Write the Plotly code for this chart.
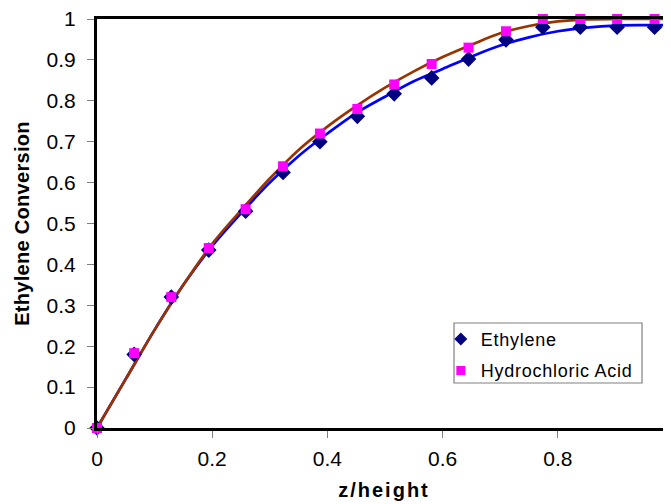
import plotly.graph_objects as go

# Marker data (z/height vs conversion)
z_points = [0, 0.0645, 0.129, 0.194, 0.258, 0.323, 0.387, 0.452, 0.516,
            0.581, 0.645, 0.710, 0.774, 0.839, 0.903, 0.968, 1.0]
ethylene_pts = [0, 0.18, 0.32, 0.435, 0.53, 0.625, 0.70, 0.762, 0.817,
                0.856, 0.902, 0.949, 0.98, 0.98, 0.98, 0.98, 0.98]
hcl_pts = [0, 0.183, 0.32, 0.44, 0.535, 0.64, 0.72, 0.78, 0.84,
           0.89, 0.93, 0.97, 1.0, 1.0, 1.0, 1.0, 1.0]

# Model curves
z_line = [0, 0.05, 0.10, 0.15, 0.20, 0.25, 0.30, 0.35, 0.40, 0.45, 0.50,
          0.55, 0.60, 0.65, 0.70, 0.75, 0.80, 0.85, 0.90, 0.95, 1.0]
ethylene_line = [0.0, 0.12, 0.24, 0.35, 0.445, 0.525, 0.60, 0.665, 0.72, 0.77,
                 0.81, 0.848, 0.878, 0.908, 0.935, 0.955, 0.97, 0.979, 0.984,
                 0.985, 0.985]
hcl_line = [0.0, 0.12, 0.24, 0.35, 0.45, 0.532, 0.61, 0.68, 0.737, 0.787,
            0.832, 0.872, 0.907, 0.937, 0.965, 0.983, 0.994, 0.999, 1.0,
            1.0, 1.0]

series_names = ["Ethylene", "Hydrochloric Acid"]
x_ticks = [0, 0.2, 0.4, 0.6, 0.8, 1]
x_ticklabels = ["0", "0.2", "0.4", "0.6", "0.8", "1"]
y_ticks = [0, 0.1, 0.2, 0.3, 0.4, 0.5, 0.6, 0.7, 0.8, 0.9, 1]
y_ticklabels = ["0", "0.1", "0.2", "0.3", "0.4", "0.5", "0.6",
                "0.7", "0.8", "0.9", "1"]

FONT = "Liberation Sans, Arial, sans-serif"
ETH_COLOR = "#000080"
HCL_COLOR = "#FF00FF"


def spaced(text, px):
    return f'<span style="letter-spacing:{px}px">{text}</span>'


fig = go.Figure()
fig.add_trace(go.Scatter(x=z_line, y=ethylene_line, mode="lines",
                         line=dict(color="#0000FF", width=2.7, shape="spline"),
                         showlegend=False, cliponaxis=False))
fig.add_trace(go.Scatter(x=z_line, y=hcl_line, mode="lines",
                         line=dict(color="#993300", width=2.7, shape="spline"),
                         showlegend=False, cliponaxis=False))
fig.add_trace(go.Scatter(x=z_points, y=ethylene_pts, mode="markers",
                         marker=dict(symbol="diamond", size=12, color=ETH_COLOR),
                         showlegend=False, cliponaxis=False))
fig.add_trace(go.Scatter(x=z_points, y=hcl_pts, mode="markers",
                         marker=dict(symbol="square", size=10, color=HCL_COLOR),
                         showlegend=False, cliponaxis=False))
# legend entries
fig.add_trace(go.Scatter(x=[None], y=[None], mode="markers",
                         name=spaced(series_names[0], 0.75), legendgroup="a",
                         marker=dict(symbol="diamond", size=10, color=ETH_COLOR)))
fig.add_trace(go.Scatter(x=[None], y=[None], mode="markers",
                         name=spaced(series_names[1], 0.75), legendgroup="b",
                         marker=dict(symbol="square", size=9, color=HCL_COLOR)))

fig.update_layout(
    width=663, height=496,
    margin=dict(l=89, r=0, t=11, b=76),
    paper_bgcolor="white", plot_bgcolor="white",
    font=dict(family=FONT, color="black", size=21),
    showlegend=True,
    legend=dict(x=0.599, y=0.262, xanchor="left", yanchor="top",
                borderwidth=0, bgcolor="rgba(0,0,0,0)",
                tracegroupgap=5,
                font=dict(size=18, family=FONT)),
    shapes=[dict(type="rect", xref="paper", yref="paper",
                 x0=0.622, x1=0.9495, y0=0.110, y1=0.2567,
                 line=dict(color="#808080", width=1.2),
                 fillcolor="white", layer="below")],
    xaxis=dict(range=[0, 0.9965], tickvals=x_ticks, ticktext=x_ticklabels,
               showgrid=False, zeroline=False,
               showline=True, linecolor="black", linewidth=3, mirror=True,
               ticks="outside", ticklen=7, tickcolor="#808080", tickwidth=1,
               ticklabelstandoff=3, ticklabeloverflow="allow",
               title=dict(text="<b>" + spaced("z/height", 2) + "</b>",
                          standoff=14, font=dict(size=20, family=FONT))),
    yaxis=dict(range=[0, 1], tickvals=y_ticks, ticktext=y_ticklabels,
               showgrid=False, zeroline=False,
               showline=True, linecolor="black", linewidth=3,
               ticks="outside", ticklen=7, tickcolor="#808080", tickwidth=1,
               ticklabelstandoff=7, ticklabeloverflow="allow",
               title=dict(text="<b>" + spaced("Ethylene Conversion", 0.3) + "</b>",
                          standoff=12, font=dict(size=20, family=FONT))),
)

fig.write_html("out.html")
